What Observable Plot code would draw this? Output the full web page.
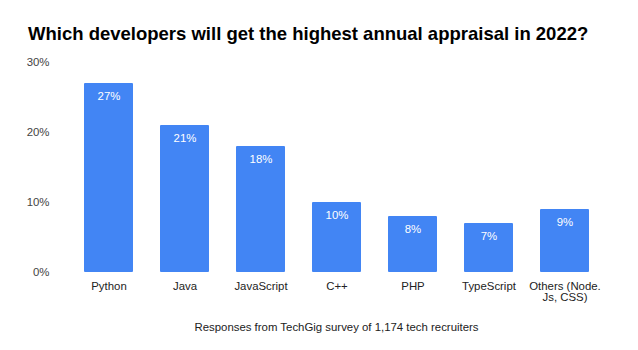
<!DOCTYPE html>
<html>
<head>
<meta charset="utf-8">
<script src="https://cdn.jsdelivr.net/npm/d3@7"></script>
<script src="https://cdn.jsdelivr.net/npm/@observablehq/plot@0.6"></script>
<style>
  html, body { margin: 0; padding: 0; background: #fff; }
  body { font-family: "Liberation Sans", Arial, sans-serif; }
  #wrap { position: relative; width: 638px; height: 350px; overflow: hidden; }
  #title { position: absolute; left: 28px; top: 23px; font-size: 18.5px; font-weight: bold; color: #000; white-space: nowrap; }
  #chart { position: absolute; left: 0; top: 50px; }
  #caption { position: absolute; left: 0; width: 673px; top: 321px; text-align: center; font-size: 11.4px; color: #222; }
</style>
</head>
<body>
<div id="wrap">
  <div id="title">Which developers will get the highest annual appraisal in 2022?</div>
  <div id="chart"></div>
  <div id="caption">Responses from TechGig survey of 1,174 tech recruiters</div>
</div>
<script>
const categories = ["Python", "Java", "JavaScript", "C++", "PHP", "TypeScript", "Others (Node. Js, CSS)"];
const values = [27, 21, 18, 10, 8, 7, 9];
const yTicks = [0, 10, 20, 30];

const data = categories.map((c, i) => ({category: c, value: values[i]}));

const chart = Plot.plot({
  width: 638,
  height: 262,
  marginTop: 12,
  marginBottom: 40,
  marginLeft: 82,
  marginRight: 47,
  style: {fontFamily: '"Liberation Sans", Arial, sans-serif', fontSize: "11.4px", background: "#fff"},
  x: {domain: categories, paddingInner: 0.35, paddingOuter: 0, label: null},
  y: {domain: [0, 30], label: null},
  marks: [
    Plot.barY(data, {x: "category", y: "value", fill: "#4285f4", rx: 1}),
    Plot.text(data, {x: "category", y: "value", text: d => d.value + "%", dy: 13, fill: "#fff", fontSize: 11.4}),
    Plot.axisY({ticks: yTicks, tickSize: 0, tickPadding: 33, tickFormat: d => d + "%", fill: "#444", fontSize: 11.4}),
    Plot.axisX({tickSize: 0, tickPadding: 9, lineAnchor: "top", fill: "#222", fontSize: 11.4,
      tickFormat: d => d.replace("(Node. ", "(Node.\n")})
  ]
});
document.getElementById("chart").appendChild(chart);
</script>
</body>
</html>
